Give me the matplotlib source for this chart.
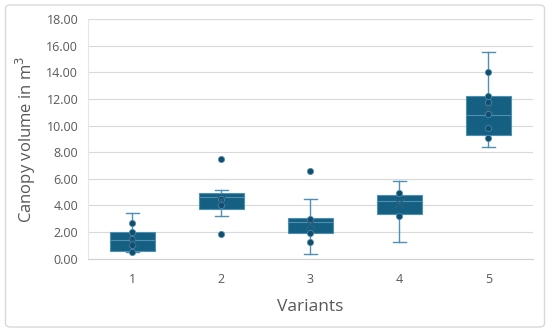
import matplotlib
matplotlib.use("Agg")
import matplotlib.pyplot as plt
from matplotlib.patches import FancyBboxPatch

plt.rcParams['font.family'] = ['Open Sans', 'DejaVu Sans']

variants = ['1', '2', '3', '4', '5']
whis_lo = [0.48, 3.20, 0.38, 1.26, 8.42]
q1 = [0.60, 3.73, 1.94, 3.33, 9.30]
median = [1.43, 4.64, 2.75, 4.30, 10.80]
q3 = [1.97, 4.94, 3.08, 4.82, 12.20]
whis_hi = [3.43, 5.14, 4.51, 5.80, 15.56]
means = [1.36, 4.39, 2.62, 4.18, 11.30]
inner_pts = [
    [0.50, 1.00, 1.50, 2.00, 2.67],
    [4.05, 4.50],
    [1.26, 1.94, 3.00],
    [3.18, 4.97],
    [9.05, 9.85, 10.90, 11.80, 12.25, 14.05],
]
outliers = [[], [1.87, 7.49], [6.58], [], []]

box_col = '#156082'
edge_col = '#4f8fb3'
dot_col = '#124e6d'

stats = []
for i in range(len(variants)):
    stats.append(dict(whislo=whis_lo[i], q1=q1[i], med=median[i], q3=q3[i],
                      whishi=whis_hi[i], mean=means[i], fliers=[], label=variants[i]))

fig = plt.figure(figsize=(5.5, 3.32), dpi=100)
ax = fig.add_axes([0.16, 0.221, 0.809, 0.721])

pos = list(range(1, len(variants) + 1))
ax.bxp(stats, positions=pos, widths=0.5, patch_artist=True, showmeans=False,
       boxprops=dict(facecolor=box_col, edgecolor=edge_col, linewidth=0.8),
       medianprops=dict(color=edge_col, linewidth=0.8),
       whiskerprops=dict(color=edge_col, linewidth=1.0),
       capprops=dict(color=edge_col, linewidth=1.0),
       capwidths=0.15, zorder=3)

for i, p in enumerate(pos):
    ax.plot([p] * len(inner_pts[i]), inner_pts[i], 'o', ms=4.5, color=dot_col,
            mec=edge_col, mew=0.5, zorder=4)
    if outliers[i]:
        ax.plot([p] * len(outliers[i]), outliers[i], 'o', ms=4.5, color=dot_col,
                mec=edge_col, mew=0.5, zorder=4)
    ax.plot(p, means[i], 'x', ms=7, color='#2a5f7f', mew=1.0, zorder=5)

ax.set_xlim(0.5, 5.5)
ax.set_ylim(0, 18)
ax.set_yticks(range(0, 19, 2))
ax.set_yticklabels(['%.2f' % v for v in range(0, 19, 2)])
ax.set_xticks(pos)
ax.set_xticklabels(variants)
ax.yaxis.grid(True, color='#d9d9d9', linewidth=0.8)
ax.set_axisbelow(True)
for s in ['top', 'right']:
    ax.spines[s].set_visible(False)
ax.spines['left'].set_color('#e6e6e6')
ax.spines['bottom'].set_color('#d0d0d0')
ax.tick_params(length=0, labelsize=9, colors='#595959', pad=10)
ax.tick_params(axis='y', pad=7)

ax.set_ylabel('Canopy volume in m$^3$', fontsize=12, color='#595959', labelpad=6)
ax.set_xlabel('Variants', fontsize=12.5, color='#595959', labelpad=10)

fig.patches.append(FancyBboxPatch((0.01, 0.015), 0.98, 0.97, boxstyle='round,pad=0,rounding_size=0.01',
                                  transform=fig.transFigure, fill=False,
                                  edgecolor='#d9d9d9', linewidth=1.0))

fig.savefig('out.png', dpi=100)
